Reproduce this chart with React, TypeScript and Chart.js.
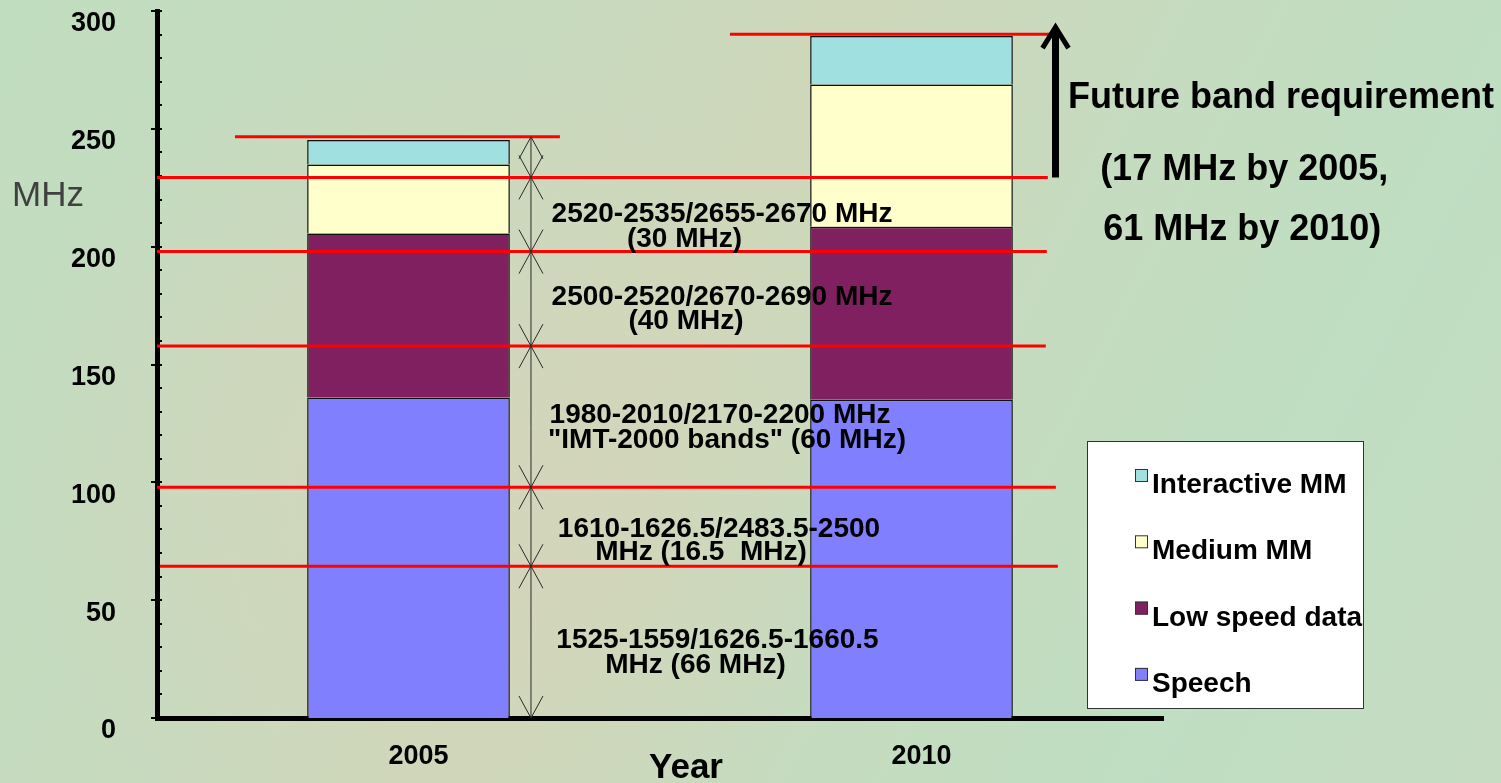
import React, { useEffect, useRef } from 'react';
import { Chart, registerables } from 'chart.js';

Chart.register(...registerables);

const FONT = '"Liberation Sans", Arial, Helvetica, sans-serif';

// ---- data ----
const categories = ['2005', '2010'];
const speech = [136.0, 135.0];
const lowSpeedData = [69.6, 73.5];
const mediumMM = [29.3, 60.3];
const interactiveMM = [10.4, 20.6];
const yTickValues = [0, 50, 100, 150, 200, 250, 300];

// band boundaries for the dimension arrows (MHz on the chart scale)
const bandLevels = [0, 64.4, 97.9, 157.8, 197.9, 229.4, 246.6];
// red reference lines: level, start and end along the category axis (index units)
const redLineLevels = [64.4, 97.9, 157.8, 197.9, 229.4, 246.6, 290.1];
const redLineStarts = [-0.494, -0.5, -0.5, -0.5, -0.5, -0.345, 0.639];
const redLineEnds = [1.291, 1.287, 1.267, 1.269, 1.271, 0.301, 1.275];

const bandLabelLines = [
  '2520-2535/2655-2670 MHz',
  '(30 MHz)',
  '2500-2520/2670-2690 MHz',
  '(40 MHz)',
  '1980-2010/2170-2200 MHz',
  '"IMT-2000 bands" (60 MHz)',
  '1610-1626.5/2483.5-2500',
  'MHz (16.5  MHz)',
  '1525-1559/1626.5-1660.5',
  'MHz (66 MHz)',
];
const bandLabelX = [0.6233, 0.5487, 0.6233, 0.5517, 0.6193, 0.6332, 0.6173, 0.5815, 0.6143, 0.5706];
const bandLabelY = [210.5, 199.9, 175.2, 165.0, 125.2, 114.6, 76.8, 67.0, 29.7, 19.1];

const futureLines = ['Future band requirement', '(17 MHz by 2005,', '61 MHz by 2010)'];
const futureX = [1.311, 1.375, 1.381];
const futureY = [258.8, 228.3, 202.8];
const futureArrowX = 1.2863;
const futureArrowFrom = 229.4;
const futureArrowTo = 294.0;
const dimensionX = 0.2435;

const seriesLabels = ['Speech', 'Low speed data', 'Medium MM', 'Interactive MM'];
const seriesColors = ['#8080FF', '#802060', '#FFFFCC', '#A0E0E0'];

const overlayPlugin = {
  id: 'overlay',
  beforeDraw(chart: any) {
    const { ctx, width, height } = chart;
    ctx.save();
    const g = ctx.createLinearGradient(0, 0, width, height);
    g.addColorStop(0, '#c0ddc0');
    g.addColorStop(0.3, '#c8dabe');
    g.addColorStop(0.45, '#cfd7ba');
    g.addColorStop(0.62, '#c6dbbf');
    g.addColorStop(0.8, '#bfdec2');
    g.addColorStop(1, '#c6dcc2');
    ctx.fillStyle = g;
    ctx.fillRect(0, 0, width, height);
    const r = ctx.createRadialGradient(430, 470, 20, 430, 470, 430);
    r.addColorStop(0, 'rgba(214,212,186,0.75)');
    r.addColorStop(1, 'rgba(214,212,186,0)');
    ctx.fillStyle = r;
    ctx.fillRect(0, 0, width, height);
    ctx.restore();
  },
  afterDatasetsDraw(chart: any) {
    const ctx = chart.ctx;
    const xs = chart.scales.x;
    const ys = chart.scales.y;
    const px = (i: number) => xs.getPixelForValue(i);
    const py = (v: number) => ys.getPixelForValue(v);
    const area = chart.chartArea;
    ctx.save();

    // axis tick marks (major every 50, minor every 10)
    ctx.strokeStyle = '#000';
    ctx.lineWidth = 2;
    for (let v = 0; v <= 300; v += 10) {
      const y = Math.round(py(v));
      const major = v % 50 === 0;
      ctx.beginPath();
      ctx.moveTo(area.left - (major ? 6 : 2), y);
      ctx.lineTo(area.left + 5, y);
      ctx.stroke();
    }

    // red reference lines
    ctx.strokeStyle = '#ff0000';
    ctx.lineWidth = 3;
    redLineLevels.forEach((v, i) => {
      ctx.beginPath();
      ctx.moveTo(px(redLineStarts[i]), py(v));
      ctx.lineTo(px(redLineEnds[i]), py(v));
      ctx.stroke();
    });

    // dimension line with double arrows
    const dx = px(dimensionX);
    ctx.strokeStyle = '#2a2a2a';
    ctx.lineWidth = 1;
    ctx.beginPath();
    ctx.moveTo(dx, py(bandLevels[0]));
    ctx.lineTo(dx, py(bandLevels[bandLevels.length - 1]));
    ctx.stroke();
    for (let i = 0; i < bandLevels.length - 1; i++) {
      const yb = py(bandLevels[i]);
      const yt = py(bandLevels[i + 1]);
      ctx.beginPath();
      ctx.moveTo(dx - 12, yb - 22);
      ctx.lineTo(dx, yb);
      ctx.lineTo(dx + 12, yb - 22);
      ctx.stroke();
      ctx.beginPath();
      ctx.moveTo(dx - 12, yt + 22);
      ctx.lineTo(dx, yt);
      ctx.lineTo(dx + 12, yt + 22);
      ctx.stroke();
    }

    // band labels
    ctx.fillStyle = '#000';
    ctx.font = `bold 28px ${FONT}`;
    ctx.textAlign = 'center';
    ctx.textBaseline = 'alphabetic';
    bandLabelLines.forEach((t, i) => ctx.fillText(t, px(bandLabelX[i]), py(bandLabelY[i])));

    // future requirement arrow
    const ax = px(futureArrowX);
    const yFrom = py(futureArrowFrom);
    const yTo = py(futureArrowTo);
    ctx.strokeStyle = '#000';
    ctx.lineWidth = 7;
    ctx.lineCap = 'butt';
    ctx.beginPath();
    ctx.moveTo(ax, yFrom);
    ctx.lineTo(ax, yTo + 4);
    ctx.stroke();
    ctx.lineWidth = 5;
    ctx.lineJoin = 'miter';
    ctx.beginPath();
    ctx.moveTo(ax - 13, yTo + 23);
    ctx.lineTo(ax, yTo + 2);
    ctx.lineTo(ax + 13, yTo + 23);
    ctx.stroke();

    ctx.font = `bold 36px ${FONT}`;
    ctx.textAlign = 'left';
    futureLines.forEach((t, i) => ctx.fillText(t, px(futureX[i]), py(futureY[i])));

    // legend
    const lx = 1087, lt = 441, lw = 276, lh = 267;
    ctx.fillStyle = '#ffffff';
    ctx.fillRect(lx, lt, lw, lh);
    ctx.strokeStyle = '#333';
    ctx.lineWidth = 1;
    ctx.strokeRect(lx + 0.5, lt + 0.5, lw, lh);
    const items = chart.data.datasets.map((d: any) => ({ label: d.label, color: d.backgroundColor })).reverse();
    ctx.font = `bold 28px ${FONT}`;
    items.forEach((it: any, i: number) => {
      const base = 493 + i * 66.3;
      ctx.fillStyle = it.color;
      ctx.fillRect(1135, base - 24, 13, 13);
      ctx.strokeStyle = '#333';
      ctx.strokeRect(1135.5, base - 23.5, 12, 12);
      ctx.fillStyle = '#000';
      ctx.fillText(it.label, 1152, base);
    });

    // axis titles
    ctx.fillStyle = '#404040';
    ctx.font = `35px ${FONT}`;
    ctx.textAlign = 'left';
    ctx.fillText('MHz', 12, 206);
    ctx.fillStyle = '#000';
    ctx.font = `bold 35px ${FONT}`;
    ctx.textAlign = 'center';
    ctx.fillText('Year', 686, 778);

    ctx.restore();
  },
};

export default function App() {
  const ref = useRef<HTMLCanvasElement>(null);
  useEffect(() => {
    if (!ref.current) return;
    const datasetValues = [speech, lowSpeedData, mediumMM, interactiveMM];
    const chart = new Chart(ref.current, {
      type: 'bar',
      data: {
        labels: categories,
        datasets: seriesLabels.map((label, i) => ({
          label,
          data: datasetValues[i],
          backgroundColor: seriesColors[i],
          borderColor: '#111',
          borderWidth: 1.5,
          categoryPercentage: 1,
          barPercentage: 0.403,
        })),
      },
      options: {
        responsive: false,
        animation: false,
        layout: { padding: { left: 0, right: 338, top: 11, bottom: 0 } },
        plugins: { legend: { display: false }, tooltip: { enabled: false } },
        scales: {
          x: {
            stacked: true,
            grid: { display: false, drawTicks: false },
            border: { display: true, color: '#000', width: 5 },
            ticks: {
              color: '#000',
              font: { family: FONT, size: 27, weight: 'bold' },
              padding: 22,
              labelOffset: 10,
            },
            afterFit(s: any) {
              s.height = 65;
              s.paddingLeft = 0;
              s.paddingRight = 0;
            },
          },
          y: {
            stacked: true,
            min: 0,
            max: 300,
            grid: { display: false, drawTicks: false },
            border: { display: true, color: '#000', width: 5 },
            ticks: {
              color: '#000',
              font: { family: FONT, size: 27, weight: 'bold' },
              padding: 41,
              labelOffset: 13,
            },
            afterBuildTicks(s: any) {
              s.ticks = yTickValues.map((v) => ({ value: v }));
            },
            afterFit(s: any) {
              s.width = 157;
              s.paddingTop = 0;
              s.paddingBottom = 0;
            },
          },
        },
      } as any,
      plugins: [overlayPlugin],
    });
    return () => chart.destroy();
  }, []);
  return (
    <div style={{ position: 'fixed', left: 0, top: 0, width: 1501, height: 783 }}>
      <canvas ref={ref} width={1501} height={783} style={{ display: 'block' }} />
    </div>
  );
}
